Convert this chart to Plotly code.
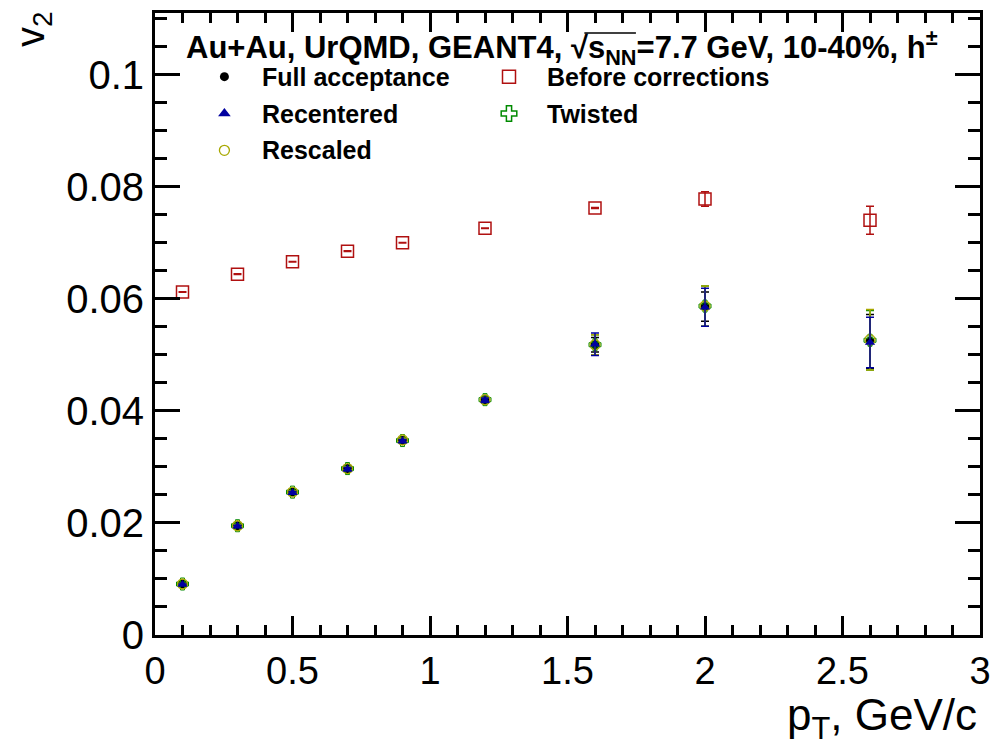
import plotly.graph_objects as go

# pT bin centres, GeV/c
pt = [0.1, 0.3, 0.5, 0.7, 0.9, 1.2, 1.6, 2.0, 2.6]

# v2 of charged hadrons for each correction step
v2_full = [0.0091, 0.0195, 0.0255, 0.0297, 0.0347, 0.0420, 0.0518, 0.0586, 0.0524]
err_full = [0.0001, 0.0002, 0.0002, 0.0003, 0.0003, 0.0004, 0.0013, 0.0026, 0.0048]

v2_recentered = [0.0090, 0.0194, 0.0254, 0.0296, 0.0346, 0.0419, 0.0519, 0.0585, 0.0522]
err_recentered = [0.0001, 0.0002, 0.0002, 0.0003, 0.0003, 0.0004, 0.0020, 0.0034, 0.0045]

v2_rescaled = [0.0091, 0.0195, 0.0255, 0.0297, 0.0348, 0.0420, 0.0518, 0.0587, 0.0527]
err_rescaled = [0.0001, 0.0002, 0.0002, 0.0003, 0.0003, 0.0004, 0.0018, 0.0036, 0.0054]

v2_twisted = [0.0091, 0.0195, 0.0255, 0.0297, 0.0347, 0.0420, 0.0518, 0.0587, 0.0526]
err_twisted = [0.0001, 0.0002, 0.0002, 0.0003, 0.0003, 0.0004, 0.0018, 0.0036, 0.0053]

v2_before = [0.0612, 0.0644, 0.0666, 0.0685, 0.0700, 0.0726, 0.0762, 0.0778, 0.0740]
err_before = [0.00005, 0.00005, 0.00005, 0.00005, 0.00005, 0.00005, 0.0001, 0.0013, 0.0025]

x_ticks = [0, 0.5, 1, 1.5, 2, 2.5, 3]
y_ticks = [0, 0.02, 0.04, 0.06, 0.08, 0.1]

C_BLACK = "#000000"
C_BLUE = "#0000a0"
C_YELLOW = "#a8a800"
C_GREEN = "#008a00"
C_RED = "#b01010"

FONT = "Liberation Sans"

# frame of the plotting area in page pixels
L, R, T, B = 155, 987, 10, 635


def px(x):
    return (x - L) / (R - L)


def py(y):
    return (B - y) / (B - T)


series = [
    ("Full acceptance", v2_full, err_full, "circle", 9, C_BLACK, 0),
    ("Twisted", v2_twisted, err_twisted, "cross-open", 10, C_GREEN, 1),
    ("Rescaled", v2_rescaled, err_rescaled, "circle-open", 10, C_YELLOW, 1.3),
    ("Recentered", v2_recentered, err_recentered, "triangle-up", 9, C_BLUE, 0),
    ("Before corrections", v2_before, err_before, "square-open", 12, C_RED, 1.5),
]

fig = go.Figure()
for name, vals, errs, sym, size, col, lw in series:
    fig.add_trace(go.Scatter(
        x=pt, y=vals, mode="markers", name=name, showlegend=False,
        marker=dict(symbol=sym, size=size, color=col,
                    line=dict(color=col, width=lw)),
        error_y=dict(type="data", array=errs, color=col, thickness=1.5, width=4),
    ))

# legend block drawn in a pixel-based overlay frame
legend_rows = [
    ("Full acceptance", "circle", 9, C_BLACK, 0, 225, 74),
    ("Recentered", "triangle-up", 11, C_BLUE, 0, 225, 111),
    ("Rescaled", "circle-open", 10, C_YELLOW, 1.3, 225, 148),
    ("Before corrections", "square-open", 13, C_RED, 1.5, 512, 74),
    ("Twisted", "cross-open", 13, C_GREEN, 1.5, 512, 111),
]
for name, sym, size, col, lw, lx, ly in legend_rows:
    fig.add_trace(go.Scatter(
        x=[lx], y=[ly], mode="markers", xaxis="x2", yaxis="y2", showlegend=False,
        marker=dict(symbol=sym, size=size, color=col, line=dict(color=col, width=lw)),
        hoverinfo="skip",
    ))
    fig.add_annotation(
        x=px(lx + 36), y=py(ly), xref="paper", yref="paper", text="<b>%s</b>" % name,
        showarrow=False, xanchor="left", yanchor="middle",
        font=dict(family=FONT, size=25, color="black"),
    )

fig.add_annotation(
    x=px(184), y=py(45), xref="paper", yref="paper",
    text="<b>Au+Au, UrQMD, GEANT4, √s<sub>NN</sub>=7.7 GeV, 10-40%, h<sup>±</sup></b>",
    showarrow=False, xanchor="left", yanchor="middle",
    font=dict(family=FONT, size=31, color="black"),
)
# vinculum of the square-root sign
fig.add_shape(type="line", xref="paper", yref="paper",
              x0=px(588), x1=px(640), y0=py(30), y1=py(30),
              line=dict(color="black", width=1.5))

fig.add_annotation(
    x=px(986), y=py(718), xref="paper", yref="paper", text="p<sub>T</sub>, GeV/c",
    showarrow=False, xanchor="right", yanchor="middle",
    font=dict(family=FONT, size=44, color="black"),
)
fig.add_annotation(
    x=px(32), y=py(6), xref="paper", yref="paper", text="v<sub>2</sub>", textangle=-90,
    showarrow=False, xanchor="center", yanchor="top",
    font=dict(family=FONT, size=40, color="black"),
)

axis_common = dict(
    showgrid=False, zeroline=False, showline=True, linecolor="black", linewidth=3,
    mirror="ticks", ticks="inside", tickcolor="black", tickwidth=2.5,
)

fig.update_layout(
    width=1001, height=745,
    margin=dict(l=L, r=1001 - R, t=T, b=745 - B),
    paper_bgcolor="white", plot_bgcolor="white",
    xaxis=dict(range=[0, 3], tickvals=x_ticks, ticklen=19,
               tickfont=dict(family=FONT, size=38, color="black"),
               minor=dict(ticks="inside", dtick=0.1, ticklen=10, tickwidth=2.5,
                          tickcolor="black", showgrid=False),
               **axis_common),
    yaxis=dict(range=[0, 0.111], tickvals=y_ticks, ticklen=25,
               tickfont=dict(family=FONT, size=40, color="black"),
               minor=dict(ticks="inside", dtick=0.005, ticklen=12, tickwidth=2.5,
                          tickcolor="black", showgrid=False),
               **axis_common),
    xaxis2=dict(range=[L, R], overlaying="x", anchor="y2", visible=False),
    yaxis2=dict(range=[B, T], overlaying="y", anchor="x2", visible=False),
    showlegend=False,
)

fig.write_html("out.html")
